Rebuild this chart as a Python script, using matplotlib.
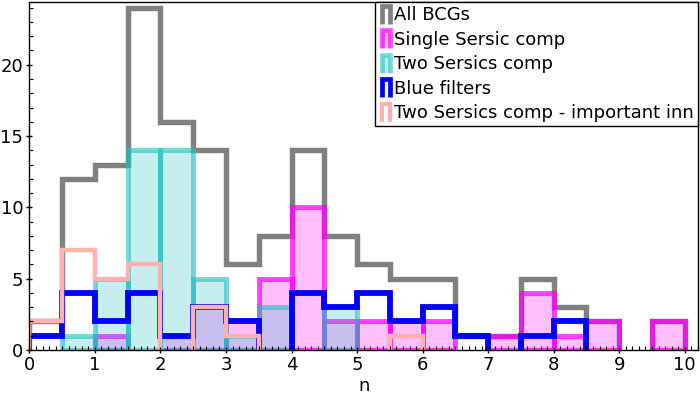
#!/usr/bin/env python3
"""Sersic index histograms for the BCG sample (recreated figure)."""

import matplotlib
matplotlib.use("Agg")
import matplotlib.pyplot as plt
import numpy as np
from matplotlib.legend_handler import HandlerBase
from matplotlib.lines import Line2D
from matplotlib.patches import Patch, Polygon
from matplotlib.ticker import MultipleLocator

# ---------------------------------------------------------------------------
# Data: counts per bin of width 0.5 in n (0 ... 10)
# ---------------------------------------------------------------------------
BIN_EDGES = np.arange(0, 10.01, 0.5)
ALL_BCGS = [2, 12, 13, 24, 16, 14, 6, 8, 14, 8, 6, 5, 5, 1, 1, 5, 3, 2, 0, 2]
SINGLE = [0, 0, 1, 0, 1, 3, 2, 5, 10, 2, 2, 2, 2, 0, 1, 4, 1, 2, 0, 2]
TWO = [0, 1, 5, 14, 14, 5, 1, 3, 0, 3, 0, 0, 0, 0, 0, 0, 0, 0, 0, 0]
BLUE = [1, 4, 2, 4, 1, 3, 2, 0, 4, 3, 4, 2, 3, 1, 0, 1, 2, 0, 0, 0]
TWO_INN = [2, 7, 5, 6, 0, 3, 1, 0, 0, 0, 0, 1, 0, 0, 0, 0, 0, 0, 0, 0]

LABELS = ["All BCGs", "Single Sersic comp", "Two Sersics comp",
          "Blue filters", "Two Sersics comp - important inn"]
X_TICKS = list(range(0, 11))

# ---------------------------------------------------------------------------
# Style
# ---------------------------------------------------------------------------
GRAY = "#808080"
MAG_FACE = (1.0, 0.0, 1.0, 0.25)
MAG_EDGE = (1.0, 0.0, 1.0, 0.72)
CYAN_FACE = (0.13, 0.75, 0.75, 0.25)
CYAN_EDGE = (0.13, 0.75, 0.75, 0.6)
BLUE_C = "#0000ff"
PINK = "#ffb0b0"
FS = 13

plt.rcParams.update({
    "font.family": "DejaVu Sans",
    "font.size": FS,
})


def step_xy(edges, vals):
    """Step outline of a histogram, leaving out the runs that lie on zero."""
    pts = [(edges[0], 0)]
    for i, v in enumerate(vals):
        pts += [(edges[i], v), (edges[i + 1], v)]
    pts.append((edges[-1], 0))
    xs, ys = [pts[0][0]], [pts[0][1]]
    for (xa, ya), (xb, yb) in zip(pts[:-1], pts[1:]):
        if ya == 0 and yb == 0 and xa != xb:
            xs.append(np.nan)
            ys.append(np.nan)
        xs.append(xb)
        ys.append(yb)
    return xs, ys


class StepHandler(HandlerBase):
    """Legend key drawn as a small step (inverted U) glyph."""

    def create_artists(self, legend, orig, xd, yd, width, height, fontsize, trans):
        x0, x1 = -xd + 2, -xd + width - 2
        y0, y1 = -yd - 2, -yd + height + 1
        arts = []
        fc = orig.get_facecolor()
        if fc[3] > 0:
            arts.append(Polygon([[x0, y0], [x0, y1], [x1, y1], [x1, y0]],
                                closed=True, facecolor=fc, edgecolor="none",
                                transform=trans))
        arts.append(Line2D([x0, x0, x1, x1], [y0, y1, y1, y0],
                           color=orig.get_edgecolor(), lw=orig.get_linewidth(),
                           solid_joinstyle="miter", solid_capstyle="butt",
                           transform=trans))
        return arts


def main():
    fig = plt.figure(figsize=(7, 4), dpi=100)
    ax = fig.add_axes([0.042, 0.125, 0.955, 0.869])
    ax.set_axisbelow(False)   # ticks and spines above the bars

    left = BIN_EDGES[:-1]

    # All BCGs
    xs, ys = step_xy(BIN_EDGES, ALL_BCGS)
    ax.plot(xs, ys, color=GRAY, lw=3.9, solid_joinstyle="miter", zorder=1.0)

    # Single Sersic component (filled bars)
    v = np.array(SINGLE)
    nz = v > 0
    ax.bar(left[nz], v[nz], width=0.5, align="edge", facecolor=MAG_FACE,
           edgecolor=MAG_EDGE, linewidth=3.6, zorder=1.2)

    # Two Sersics component (filled bars)
    v = np.array(TWO)
    nz = v > 0
    ax.bar(left[nz], v[nz], width=0.5, align="edge", facecolor=CYAN_FACE,
           edgecolor=CYAN_EDGE, linewidth=3.6, zorder=1.4)

    # Blue filters
    xs, ys = step_xy(BIN_EDGES, BLUE)
    ax.plot(xs, ys, color=BLUE_C, lw=4.2, solid_joinstyle="miter", zorder=1.6)

    # Two Sersics - important inner component
    xs, ys = step_xy(BIN_EDGES, TWO_INN)
    ax.plot(xs, ys, color=PINK, lw=3.2, solid_joinstyle="miter", zorder=1.8)

    # Axes
    ax.set_xlim(0, 10.2)
    ax.set_ylim(0, 24.37)
    ax.set_xticks(X_TICKS)
    ax.xaxis.set_minor_locator(MultipleLocator(0.1))
    ax.yaxis.set_major_locator(MultipleLocator(5))
    ax.yaxis.set_minor_locator(MultipleLocator(1))
    ax.tick_params(which="major", direction="inout", length=5, width=1,
                   labelsize=FS, pad=2)
    ax.tick_params(which="minor", direction="in", length=3, width=0.8)
    ax.set_xlabel("n", fontsize=FS, labelpad=2)
    for sp in ax.spines.values():
        sp.set_linewidth(1.0)

    # Legend
    handles = [
        Patch(facecolor="none", edgecolor=GRAY, linewidth=3.4),
        Patch(facecolor=MAG_FACE, edgecolor=MAG_EDGE, linewidth=3.4),
        Patch(facecolor=CYAN_FACE, edgecolor=CYAN_EDGE, linewidth=3.4),
        Patch(facecolor="none", edgecolor=BLUE_C, linewidth=3.4),
        Patch(facecolor="none", edgecolor=PINK, linewidth=3.0),
    ]
    leg = ax.legend(handles, LABELS, loc="upper right", fontsize=FS,
                    handler_map={Patch: StepHandler()},
                    handlelength=0.75, handleheight=0.8, handletextpad=0.1,
                    labelspacing=0.36, borderpad=0.22, borderaxespad=0,
                    fancybox=False, framealpha=1, edgecolor="black")
    leg.get_frame().set_linewidth(1.0)
    leg.set_zorder(10)

    fig.savefig("out.png", dpi=100)
    plt.close(fig)


if __name__ == "__main__":
    main()
